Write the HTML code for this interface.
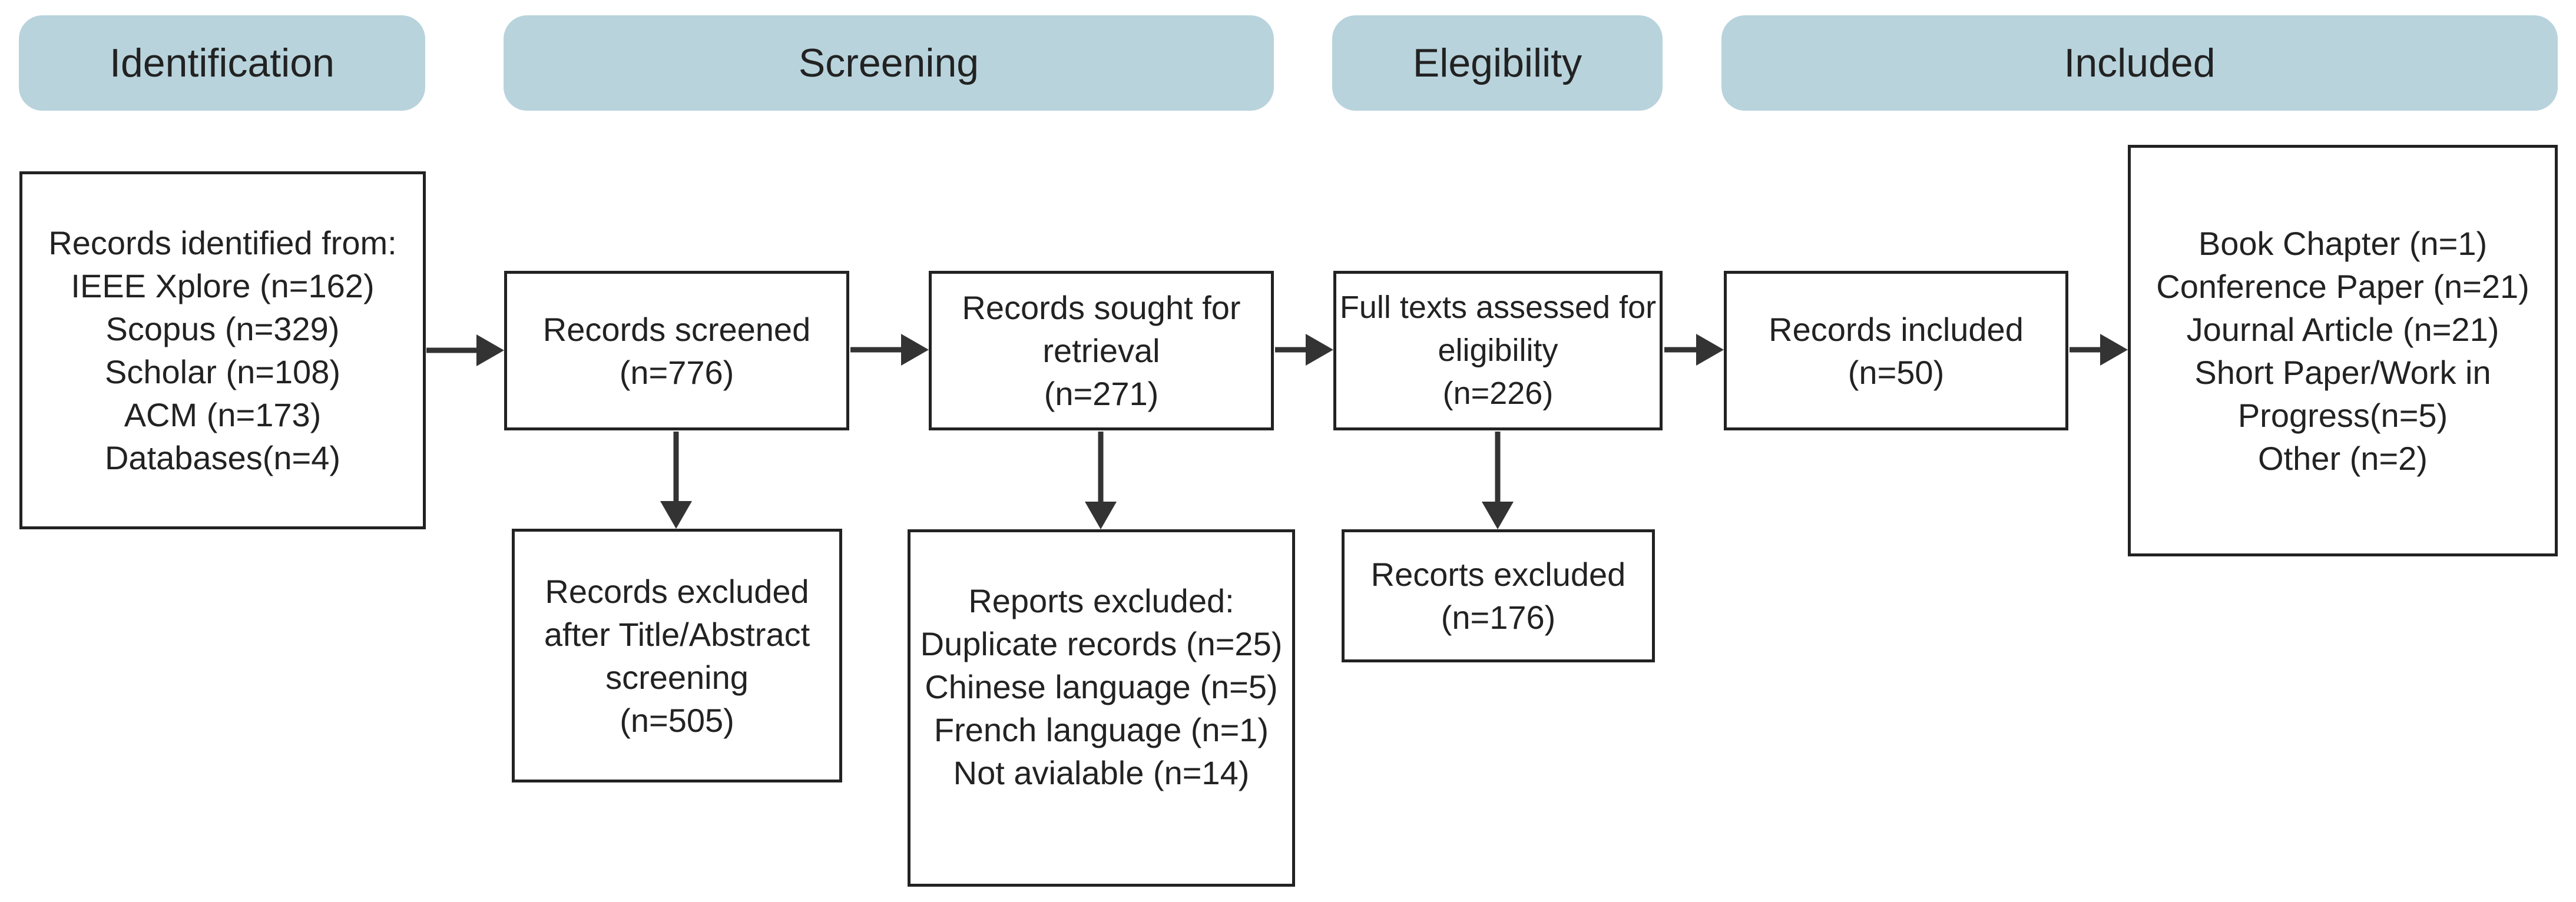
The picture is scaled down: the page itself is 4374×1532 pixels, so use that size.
<!DOCTYPE html>
<html><head><meta charset="utf-8"><style>
body{margin:0;width:4374px;height:1532px;background:#fff;position:relative;overflow:hidden;font-family:"Liberation Sans",sans-serif;color:#222}
.h{position:absolute;top:26px;height:162px;background:#b8d3dc;border-radius:40px;display:flex;align-items:center;justify-content:center;font-size:68px}
.b{position:absolute;box-sizing:border-box;border:5px solid #222;display:flex;align-items:center;justify-content:center;text-align:center;font-size:56px;line-height:73px;background:#fff;white-space:nowrap}
svg{position:absolute;left:0;top:0}
</style></head><body>
<div class="h" style="left:32px;width:690px">Identification</div>
<div class="h" style="left:855px;width:1308px">Screening</div>
<div class="h" style="left:2262px;width:561px">Elegibility</div>
<div class="h" style="left:2923px;width:1420px">Included</div>

<div class="b" style="left:33px;top:291px;width:690px;height:608px">Records identified from:<br>IEEE Xplore (n=162)<br>Scopus (n=329)<br>Scholar (n=108)<br>ACM (n=173)<br>Databases(n=4)</div>
<div class="b" style="left:856px;top:460px;width:586px;height:271px">Records screened<br>(n=776)</div>
<div class="b" style="left:869px;top:898px;width:561px;height:431px">Records excluded<br>after Title/Abstract<br>screening<br>(n=505)</div>
<div class="b" style="left:1577px;top:460px;width:586px;height:271px">Records sought for<br>retrieval<br>(n=271)</div>
<div class="b" style="left:1541px;top:899px;width:658px;height:607px;align-items:flex-start;padding-top:80px">Reports excluded:<br>Duplicate records (n=25)<br>Chinese language (n=5)<br>French language (n=1)<br>Not avialable (n=14)</div>
<div class="b" style="left:2264px;top:460px;width:559px;height:271px;font-size:54px">Full texts assessed for<br>eligibility<br>(n=226)</div>
<div class="b" style="left:2278px;top:899px;width:532px;height:226px">Recorts excluded<br>(n=176)</div>
<div class="b" style="left:2927px;top:460px;width:585px;height:271px">Records included<br>(n=50)</div>
<div class="b" style="left:3613px;top:246px;width:730px;height:699px">Book Chapter (n=1)<br>Conference Paper (n=21)<br>Journal Article (n=21)<br>Short Paper/Work in<br>Progress(n=5)<br>Other (n=2)</div>

<svg width="4374" height="1532" viewBox="0 0 4374 1532">
<g stroke="#333" stroke-width="9" fill="none">
<line x1="724" y1="595" x2="812" y2="595"/>
<line x1="1444" y1="594" x2="1532" y2="594"/>
<line x1="2165" y1="594" x2="2220" y2="594"/>
<line x1="2826" y1="594" x2="2880" y2="594"/>
<line x1="3514" y1="594" x2="3568" y2="594"/>
<line x1="1148" y1="733" x2="1148" y2="855"/>
<line x1="1869" y1="733" x2="1869" y2="855"/>
<line x1="2543" y1="733" x2="2543" y2="855"/>
</g>
<g fill="#333">
<polygon points="809,568 856,595 809,622"/>
<polygon points="1530,567 1577,594 1530,621"/>
<polygon points="2217,567 2264,594 2217,621"/>
<polygon points="2880,567 2927,594 2880,621"/>
<polygon points="3566,567 3613,594 3566,621"/>
<polygon points="1121,851 1175,851 1148,898"/>
<polygon points="1842,852 1896,852 1869,899"/>
<polygon points="2516,852 2570,852 2543,899"/>
</g>
</svg>
</body></html>
